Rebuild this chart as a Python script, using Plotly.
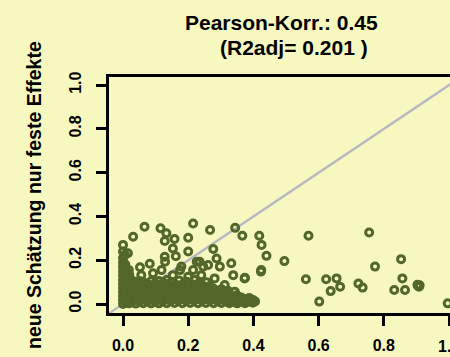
import plotly.graph_objects as go

# ---- data ----
# dense cluster near the origin
x_dicht = [
    0.0, 0.0, 0.0, 0.0, 0.0, 0.0, 0.0, 0.0, 0.0, 0.0, 0.0, 0.0, 0.0,
    0.008, 0.007, 0.008, 0.009, 0.008, 0.007, 0.008, 0.009, 0.008, 0.007, 0.006,
    0.018, 0.019, 0.017, 0.018, 0.019, 0.018, 0.017, 0.019, 0.018,
    0.028, 0.029, 0.027, 0.028, 0.029, 0.027,
    0.039, 0.040, 0.038, 0.039, 0.041, 0.039,
    0.050, 0.051, 0.049, 0.050, 0.052, 0.050,
    0.062, 0.061, 0.063, 0.062, 0.060, 0.062,
    0.074, 0.075, 0.073, 0.074, 0.075,
    0.086, 0.085, 0.087, 0.086, 0.084, 0.086,
    0.098, 0.099, 0.097, 0.098, 0.099,
    0.110, 0.111, 0.109, 0.110, 0.112, 0.110,
    0.122, 0.121, 0.123, 0.122, 0.124,
    0.134, 0.135, 0.133, 0.134, 0.136, 0.134,
    0.146, 0.147, 0.145, 0.146, 0.148,
    0.158, 0.157, 0.159, 0.158, 0.160,
    0.170, 0.171, 0.169, 0.170, 0.172,
    0.182, 0.181, 0.183, 0.182, 0.184,
    0.194, 0.195, 0.193, 0.194, 0.196,
    0.206, 0.205, 0.207, 0.206, 0.208,
    0.218, 0.219, 0.217, 0.218, 0.220,
    0.230, 0.231, 0.229, 0.230, 0.232,
    0.242, 0.243, 0.241, 0.244,
    0.254, 0.255, 0.253, 0.254, 0.256,
    0.266, 0.267, 0.265, 0.266,
    0.278, 0.279, 0.277, 0.278,
    0.290, 0.291, 0.289,
    0.302, 0.303, 0.301, 0.302,
    0.314, 0.315, 0.313,
    0.326, 0.327, 0.325,
    0.338, 0.339,
    0.350, 0.351, 0.349,
    0.362, 0.363,
    0.374, 0.375,
    0.386, 0.387,
    0.398, 0.399,
    0.405,
    # filler between the rings of the solid block
    0.044, 0.068, 0.092, 0.116, 0.140, 0.164, 0.188, 0.212, 0.236, 0.260, 0.284, 0.308,
    0.056, 0.080, 0.104, 0.128, 0.152, 0.176, 0.200, 0.224, 0.248, 0.272, 0.296, 0.332,
    0.044, 0.068, 0.092, 0.116, 0.140, 0.164, 0.188, 0.212, 0.236, 0.356, 0.380,
]
y_dicht = [
    0.000, 0.018, 0.036, 0.055, 0.073, 0.092, 0.110, 0.130, 0.150, 0.170, 0.190, 0.210, 0.240,
    0.008, 0.027, 0.046, 0.064, 0.083, 0.100, 0.120, 0.140, 0.160, 0.180, 0.225,
    0.003, 0.022, 0.040, 0.060, 0.078, 0.097, 0.115, 0.135, 0.155,
    0.010, 0.030, 0.050, 0.070, 0.090, 0.108,
    0.002, 0.021, 0.040, 0.060, 0.080, 0.099,
    0.012, 0.030, 0.050, 0.070, 0.090, 0.105,
    0.004, 0.022, 0.043, 0.062, 0.082, 0.100,
    0.013, 0.033, 0.053, 0.072, 0.092,
    0.003, 0.024, 0.044, 0.064, 0.085, 0.104,
    0.012, 0.032, 0.052, 0.073, 0.094,
    0.003, 0.022, 0.043, 0.063, 0.083, 0.105,
    0.013, 0.034, 0.055, 0.075, 0.097,
    0.004, 0.024, 0.045, 0.066, 0.088, 0.110,
    0.014, 0.035, 0.056, 0.078, 0.100,
    0.005, 0.025, 0.046, 0.068, 0.090,
    0.015, 0.036, 0.057, 0.080, 0.108,
    0.004, 0.026, 0.047, 0.069, 0.092,
    0.014, 0.036, 0.058, 0.080, 0.102,
    0.005, 0.027, 0.048, 0.070, 0.093,
    0.015, 0.037, 0.060, 0.083, 0.110,
    0.004, 0.026, 0.049, 0.072, 0.095,
    0.015, 0.038, 0.060, 0.085,
    0.005, 0.027, 0.050, 0.075, 0.100,
    0.015, 0.037, 0.060, 0.082,
    0.004, 0.026, 0.048, 0.070,
    0.014, 0.036, 0.058,
    0.005, 0.025, 0.047, 0.068,
    0.013, 0.035, 0.055,
    0.004, 0.024, 0.045,
    0.012, 0.033,
    0.003, 0.022, 0.040,
    0.012, 0.030,
    0.004, 0.022,
    0.012, 0.028,
    0.006, 0.018,
    0.012,
    0.030, 0.030, 0.030, 0.030, 0.030, 0.030, 0.030, 0.030, 0.030, 0.030, 0.030, 0.030,
    0.057, 0.057, 0.057, 0.057, 0.057, 0.057, 0.057, 0.057, 0.057, 0.057, 0.057, 0.010,
    0.083, 0.083, 0.083, 0.083, 0.083, 0.083, 0.083, 0.083, 0.083, 0.010, 0.010,
]

# scattered points
x_streu = [
    0.000, 0.015, 0.031, 0.066, 0.115, 0.133, 0.158, 0.128, 0.200, 0.215,
    0.153, 0.128, 0.162, 0.200, 0.052, 0.082, 0.056, 0.092, 0.235, 0.261,
    0.297, 0.332, 0.338, 0.373, 0.424, 0.215, 0.179, 0.118, 0.153, 0.200,
    0.240, 0.281, 0.312, 0.343, 0.267, 0.344, 0.366, 0.418, 0.425, 0.440,
    0.495, 0.277, 0.287, 0.374, 0.423, 0.297, 0.323, 0.354, 0.384, 0.395,
    0.129, 0.175, 0.226, 0.246,
    0.569, 0.561, 0.623, 0.655, 0.637, 0.666, 0.722, 0.735, 0.602, 0.755,
    0.773, 0.853, 0.857, 0.832, 0.865, 0.905, 0.910, 0.903, 0.908, 0.996,
]
y_streu = [
    0.270, 0.232, 0.307, 0.353, 0.346, 0.323, 0.297, 0.288, 0.303, 0.368,
    0.254, 0.216, 0.218, 0.240, 0.168, 0.184, 0.132, 0.140, 0.193, 0.178,
    0.171, 0.186, 0.132, 0.117, 0.155, 0.155, 0.171, 0.155, 0.132, 0.125,
    0.132, 0.117, 0.087, 0.056, 0.338, 0.348, 0.312, 0.312, 0.270, 0.220,
    0.196, 0.251, 0.208, 0.120, 0.148, 0.044, 0.059, 0.033, 0.018, 0.015,
    0.193, 0.155, 0.193, 0.171,
    0.312, 0.113, 0.113, 0.117, 0.059, 0.079, 0.094, 0.075, 0.011, 0.327,
    0.171, 0.205, 0.117, 0.064, 0.064, 0.082, 0.086, 0.088, 0.079, 0.003,
]

tick_vals = [0.0, 0.2, 0.4, 0.6, 0.8, 1.0]
tick_text = ["0.0", "0.2", "0.4", "0.6", "0.8", "1.0"]
titel_1 = "Pearson-Korr.: 0.45"
titel_2 = "(R2adj= 0.201 )"
y_titel = "neue Schätzung nur feste Effekte"
diagonale = [-0.1, 1.1]

BG = "#F7F8C0"
GREEN = "#526729"
FONT = "Liberation Sans"

fig = go.Figure()
fig.add_trace(go.Scatter(
    x=diagonale, y=diagonale, mode="lines",
    line=dict(color="#B8B8C2", width=2.4), hoverinfo="skip", showlegend=False,
))
fig.add_trace(go.Scatter(
    x=x_dicht + x_streu, y=y_dicht + y_streu, mode="markers",
    marker=dict(symbol="circle-open", size=7, color=GREEN,
                line=dict(color=GREEN, width=3)),
    showlegend=False,
))

axis_font = dict(family=FONT, size=16, color="black", weight="bold")
# the last x tick label sits on the page edge; it is drawn as an annotation
# so that it is cut by the page border like in the original
x_ticktext = tick_text[:-1] + [""]

fig.update_layout(
    width=450, height=357,
    margin=dict(l=109, r=0, t=77, b=44),
    paper_bgcolor=BG, plot_bgcolor=BG,
    xaxis=dict(range=[-0.043, 1.003], tickvals=tick_vals, ticktext=x_ticktext,
               showgrid=False, zeroline=False, showline=True, linecolor="black",
               linewidth=3, mirror=True, ticks="outside", ticklen=10,
               tickwidth=3, tickcolor="black", tickfont=axis_font,
               ticklabelstandoff=6),
    yaxis=dict(range=[-0.041, 1.037], tickvals=tick_vals, ticktext=tick_text,
               showgrid=False, zeroline=False, showline=True, linecolor="black",
               linewidth=3, mirror=False, ticks="outside", ticklen=10,
               tickwidth=3, tickcolor="black", tickfont=axis_font,
               tickangle=-90, ticklabelstandoff=9),
    annotations=[
        dict(text="<b>" + titel_1 + "</b>", xref="paper", yref="paper",
             x=0.507, y=1.233, xanchor="center", yanchor="middle", showarrow=False,
             font=dict(family=FONT, size=21, color="black")),
        dict(text="<b>" + titel_2 + "</b>", xref="paper", yref="paper",
             x=0.5425, y=1.127, xanchor="center", yanchor="middle", showarrow=False,
             font=dict(family=FONT, size=21, color="black")),
        dict(text="<b>" + y_titel + "</b>", xref="paper", yref="paper",
             x=0, y=0.5, xshift=-75, xanchor="center", yanchor="middle",
             textangle=-90, showarrow=False,
             font=dict(family=FONT, size=19.5, color="black")),
        dict(text="<b>" + tick_text[-1] + "</b>", xref="x", yref="paper",
             x=tick_vals[-1], y=-0.144, xanchor="center", yanchor="middle",
             showarrow=False, font=dict(family=FONT, size=16, color="black")),
    ],
)

fig.write_html("out.html")
